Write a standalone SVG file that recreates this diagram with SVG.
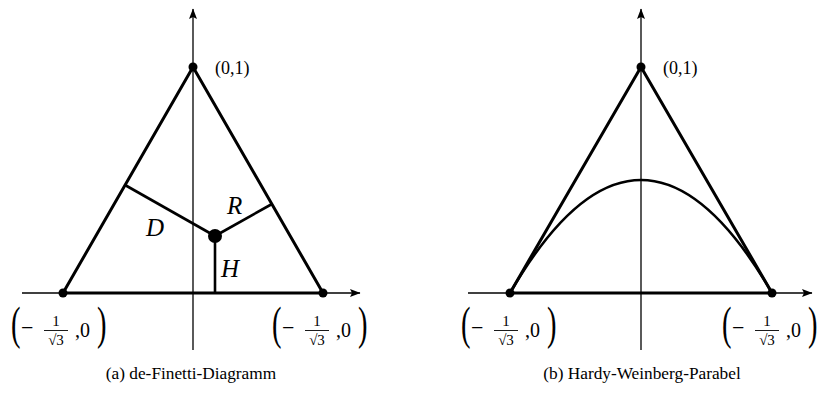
<svg xmlns="http://www.w3.org/2000/svg" width="820" height="403" viewBox="0 0 820 403">
<style>
text{font-family:"Liberation Serif","DejaVu Serif",serif;fill:#000}
.axis{stroke:#000;stroke-width:1.3;fill:none}
.side{stroke:#000;stroke-width:3;fill:none;stroke-linejoin:round}
.seg{stroke:#000;stroke-width:2.6;fill:none}
.pt{fill:#000}
.lbl{font-size:18px}
.minus{font-size:22px}
.zero{font-size:20px}
.var{font-size:25px;font-style:italic}
.frac{font-size:15px;text-anchor:middle}
.big{font-size:46px}
.cap{font-size:17.3px;text-anchor:middle}
.bar{stroke:#000;stroke-width:0.9}
</style>
<defs>
<marker id="arr" markerUnits="userSpaceOnUse" markerWidth="11" markerHeight="9" refX="10" refY="4.5" orient="auto">
<path d="M0,0.5 L10.5,4.5 L0,8.5 L2,4.5 z" fill="#000"/>
</marker>
</defs>

<g id="connectors">
<line class="axis" x1="193" y1="350" x2="193" y2="9" marker-end="url(#arr)"/>
<line class="axis" x1="22" y1="293" x2="360" y2="293" marker-end="url(#arr)"/>
<line class="axis" x1="641" y1="350" x2="641" y2="9" marker-end="url(#arr)"/>
<line class="axis" x1="468" y1="293" x2="812" y2="293" marker-end="url(#arr)"/>
</g>

<g id="triangle-a">
<path class="side" d="M63,293 L193,67 L323,293 Z"/>
</g>
<g id="segments-a">
<line class="seg" x1="215" y1="236" x2="125" y2="185"/>
<line class="seg" x1="215" y1="236" x2="272" y2="204"/>
<line class="seg" x1="215" y1="236" x2="215" y2="293"/>
</g>
<g id="point-P">
<circle class="pt" cx="215" cy="236" r="7"/>
</g>
<g id="labels-a">
<text class="var" x="146" y="236">D</text>
<text class="var" x="227" y="214">R</text>
<text class="var" x="221" y="277">H</text>
</g>
<g id="vertex-a-top">
<circle class="pt" cx="193" cy="67" r="4.5"/>
<text class="lbl" x="215" y="74">(0,1)</text>
</g>
<g id="vertex-a-left">
<circle class="pt" cx="63" cy="293" r="4.5"/>
<g transform="translate(0,0)">
<text class="big" transform="translate(11,339) scale(0.62,1)">(</text>
<text class="minus" x="21" y="335">−</text>
<text class="frac" x="56" y="326">1</text>
<line class="bar" x1="44" y1="330.5" x2="68" y2="330.5"/>
<text class="frac" x="56" y="345">√3</text>
<text class="zero" x="75" y="337">,0</text>
<text class="big" transform="translate(97,339) scale(0.62,1)">)</text>
</g>
</g>
<g id="vertex-a-right">
<circle class="pt" cx="323" cy="293" r="4.5"/>
<g transform="translate(261,0)">
<text class="big" transform="translate(11,339) scale(0.62,1)">(</text>
<text class="minus" x="21" y="335">−</text>
<text class="frac" x="56" y="326">1</text>
<line class="bar" x1="44" y1="330.5" x2="68" y2="330.5"/>
<text class="frac" x="56" y="345">√3</text>
<text class="zero" x="75" y="337">,0</text>
<text class="big" transform="translate(97,339) scale(0.62,1)">)</text>
</g>
</g>
<g id="caption-a">
<text class="cap" x="191" y="379">(a) de-Finetti-Diagramm</text>
</g>

<g id="triangle-b">
<path class="side" d="M510,293 L641,67 L772,293 Z"/>
</g>
<g id="parabola-b">
<path class="seg" d="M510,293 Q641,67 772,293"/>
</g>
<g id="vertex-b-top">
<circle class="pt" cx="641" cy="67" r="4.5"/>
<text class="lbl" x="663" y="74">(0,1)</text>
</g>
<g id="vertex-b-left">
<circle class="pt" cx="510" cy="293" r="4.5"/>
<g transform="translate(450,0)">
<text class="big" transform="translate(11,339) scale(0.62,1)">(</text>
<text class="minus" x="21" y="335">−</text>
<text class="frac" x="56" y="326">1</text>
<line class="bar" x1="44" y1="330.5" x2="68" y2="330.5"/>
<text class="frac" x="56" y="345">√3</text>
<text class="zero" x="75" y="337">,0</text>
<text class="big" transform="translate(97,339) scale(0.62,1)">)</text>
</g>
</g>
<g id="vertex-b-right">
<circle class="pt" cx="772" cy="293" r="4.5"/>
<g transform="translate(711,0)">
<text class="big" transform="translate(11,339) scale(0.62,1)">(</text>
<text class="minus" x="21" y="335">−</text>
<text class="frac" x="56" y="326">1</text>
<line class="bar" x1="44" y1="330.5" x2="68" y2="330.5"/>
<text class="frac" x="56" y="345">√3</text>
<text class="zero" x="75" y="337">,0</text>
<text class="big" transform="translate(97,339) scale(0.62,1)">)</text>
</g>
</g>
<g id="caption-b">
<text class="cap" x="642" y="379">(b) Hardy-Weinberg-Parabel</text>
</g>
</svg>
